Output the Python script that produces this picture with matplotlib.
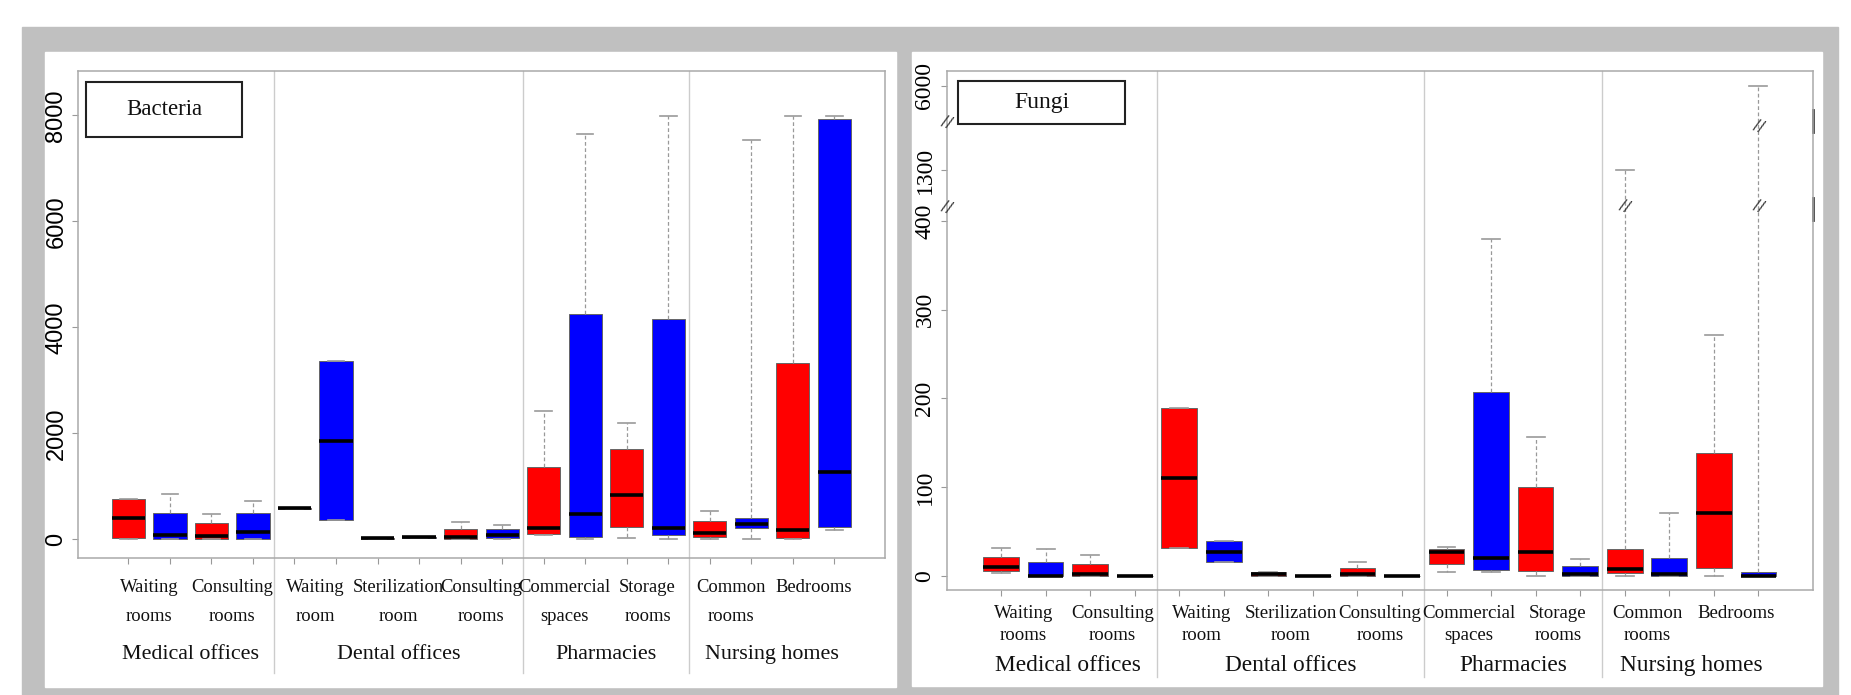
import numpy as np
import matplotlib
matplotlib.use("Agg")
import matplotlib.pyplot as plt
from matplotlib.patches import Rectangle

W, H = 1851, 695

# ---- categories ----
rooms = ["Waiting\nrooms", "Consulting\nrooms",
         "Waiting\nroom", "Sterilization\nroom", "Consulting\nrooms",
         "Commercial\nspaces", "Storage\nrooms",
         "Common\nrooms", "Bedrooms"]
settings = ["Medical offices", "Dental offices", "Pharmacies", "Nursing homes"]
rooms_per_setting = [2, 3, 2, 2]
pair_colors = ["#ff0000", "#0000ff"]

# ---- Bacteria (two boxes per room: red, blue) ----
bact_q1 = [25, 0, 0, 0, 570, 358, 12, 30, 0, 25, 94, 50, 233, 75, 38, 208, 25, 239]
bact_med = [409, 75, 63, 132, 585, 1862, 19, 38, 38, 75, 208, 472, 837, 220, 126, 289, 176, 1277]
bact_q3 = [761, 503, 302, 491, 600, 3371, 26, 46, 201, 189, 1371, 4245, 1711, 4157, 352, 409, 3334, 7925]
bact_lo = [0, 0, 0, 0, 570, 358, 12, 30, 0, 12, 88, 6, 19, 12, 6, 6, 6, 176]
bact_hi = [770, 862, 472, 723, 600, 3371, 26, 46, 327, 277, 2422, 7653, 2195, 7993, 528, 7534, 7981, 7990]
bact_ticks = [0, 2000, 4000, 6000, 8000]

# ---- Fungi ----
fungi_q1 = [5.7, 0, 0, 0, 32, 15.5, 0, 0, 0, 0, 14, 6.8, 5.7, 0, 3.8, 0, 9.4, 0]
fungi_med = [10.2, 0, 2, 0, 110.5, 27.5, 2, 0, 2, 0, 26.8, 20.8, 27.5, 2, 7.9, 2, 70.6, 0]
fungi_q3 = [21.5, 15.5, 14, 0, 189, 40, 4, 0, 9.4, 0, 30.5, 207, 100.8, 11.7, 30.2, 20, 138.5, 5]
fungi_lo = [3.8, 0, 0, 0, 32, 15.5, 0, 0, 0, 0, 4, 4, 0, 0, 0, 0, 0, 0]
fungi_hi = [32, 30, 24, 0, 189, 40, 4, 0, 16, 0, 32.5, 379.5, 156.6, 19.6, 1310, 70.6, 271, 6000]
fungi_ticks = [0, 100, 200, 300, 400, 1300, 6000]

# broken y axis for fungi: value -> linear units
brk_v = [0, 400, 1300, 6000]
brk_p = [0, 400, 457.5, 552.4]
s_top = (brk_p[3] - brk_p[2]) / (brk_v[3] - brk_v[2])


def fwd(v):
    v = np.asarray(v, dtype=float)
    out = np.where(v <= 400, v, np.interp(v, brk_v, brk_p))
    return np.where(v > 6000, brk_p[3] + (v - 6000) * s_top, out)


def inv(p):
    p = np.asarray(p, dtype=float)
    out = np.where(p <= 400, p, np.interp(p, brk_p, brk_v))
    return np.where(p > brk_p[3], 6000 + (p - brk_p[3]) / s_top, out)


def fx(x):
    return x / W


def fy(y):
    return 1 - y / H


fig = plt.figure(figsize=(W / 100, H / 100), dpi=100)
fig.patch.set_facecolor("white")
fig.add_artist(Rectangle((fx(21.7), 0), fx(1838.3 - 21.7), fy(27.3), color="#c0c0c0", zorder=-3))
fig.add_artist(Rectangle((fx(45), fy(686.7)), fx(895.7 - 45), (686.7 - 51.7) / H, color="white", zorder=-2))
fig.add_artist(Rectangle((fx(912.3), fy(686)), fx(1821.7 - 912.3), (686 - 51.7) / H, color="white", zorder=-2))


def draw_panel(ax, q1, med, q3, lo, hi, ticks, line_y, group_y, sep_bottom,
               lab_size, grp_size, tick_font, tick_size, tick_pad):
    n = len(q1)
    pos = np.arange(1, n + 1)
    stats = [dict(q1=q1[i], med=med[i], q3=q3[i], whislo=lo[i], whishi=hi[i], fliers=[])
             for i in range(n)]
    bp = ax.bxp(stats, positions=pos, widths=0.8, capwidths=0.4, patch_artist=True,
                showfliers=False,
                boxprops=dict(edgecolor="#666666", linewidth=0.7),
                medianprops=dict(color="black", linewidth=2.6),
                whiskerprops=dict(color="#999999", linewidth=0.9, linestyle=(0, (3, 2))),
                capprops=dict(color="#999999", linewidth=1.2))
    for i, b in enumerate(bp["boxes"]):
        b.set_facecolor(pair_colors[i % 2])

    ax.set_xlim(-0.22, n + 1.22)
    ax.set_xticks(pos)
    ax.set_xticklabels([])
    ax.tick_params(axis="x", length=4, color="#999999")
    ax.set_yticks(ticks)
    ax.set_yticklabels([str(t) for t in ticks], rotation=90, va="center",
                       family=tick_font, fontsize=tick_size)
    ax.tick_params(axis="y", length=4, color="#999999", pad=tick_pad)
    for s in ax.spines.values():
        s.set_color("#aaaaaa")
        s.set_linewidth(1.1)

    tr = ax.get_xaxis_transform()
    for i, lab in enumerate(rooms):
        for j, line in enumerate(lab.split("\n")):
            ax.text(2 * i + 1.5, line_y[j], line, transform=tr, ha="center", va="baseline",
                    family="Liberation Serif", fontsize=lab_size, color="#111111")
    start = 0.5
    for k, g in enumerate(settings):
        end = start + 2 * rooms_per_setting[k]
        ax.text((start + end) / 2, group_y, g, transform=tr, ha="center", va="baseline",
                family="Liberation Serif", fontsize=grp_size, color="#111111")
        if k < len(settings) - 1:
            ax.plot([end, end], [1, sep_bottom], transform=tr, color="#cccccc",
                    lw=1, clip_on=False, zorder=0)
        start = end


# ---- Bacteria panel ----
ax1 = fig.add_axes([fx(77.7), fy(558.3), fx(885 - 77.7), 487.3 / H])
ax1.set_ylim(-358, 8836)
draw_panel(ax1, bact_q1, bact_med, bact_q3, bact_lo, bact_hi, bact_ticks,
           line_y=[-0.0685, -0.128], group_y=-0.207, sep_bottom=-0.235,
           lab_size=13.4, grp_size=15.8, tick_font="Liberation Sans", tick_size=17, tick_pad=3.4)

fig.add_artist(Rectangle((fx(86), fy(136.7)), fx(241.8 - 86), 55 / H, facecolor="white",
                         edgecolor="#222222", linewidth=1.5))
fig.text(fx(163.9), fy(109.2), "Bacteria", ha="center", va="center",
         family="Liberation Serif", fontsize=16.5, color="#111111")

# ---- Fungi panel ----
ax2 = fig.add_axes([fx(946.7), fy(590), fx(866), 519 / H])
ax2.set_yscale("function", functions=(fwd, inv))
ax2.set_ylim(-15.77, 6822)
draw_panel(ax2, fungi_q1, fungi_med, fungi_q3, fungi_lo, fungi_hi, fungi_ticks,
           line_y=[-0.0545, -0.0963], group_y=-0.1555, sep_bottom=-0.167,
           lab_size=13.6, grp_size=16.8, tick_font="Liberation Serif", tick_size=17, tick_pad=4.1)

# axis breaks
for yb in [0.736, 0.9]:
    ax2.text(0, yb, "//", transform=ax2.transAxes, ha="center", va="center",
             rotation=-20, fontsize=11, color="#333333", clip_on=False)
trb = ax2.get_xaxis_transform()
for xb, yb in [(15, 0.738), (18, 0.738), (18, 0.892)]:
    ax2.text(xb, yb, "//", transform=trb, ha="center", va="center",
             rotation=-20, fontsize=11, color="#333333")
for y0, y1 in [(0.882, 0.925), (0.713, 0.755)]:
    ax2.plot([1, 1], [y0, y1], transform=ax2.transAxes, color="#444444", lw=2, clip_on=False)

fig.add_artist(Rectangle((fx(958.3), fy(124)), fx(1124.9 - 958.3), 43 / H, facecolor="white",
                         edgecolor="#222222", linewidth=1.5))
fig.text(fx(1041.6), fy(102.5), "Fungi", ha="center", va="center",
         family="Liberation Serif", fontsize=17, color="#111111")

fig.savefig("out.png", dpi=100)
